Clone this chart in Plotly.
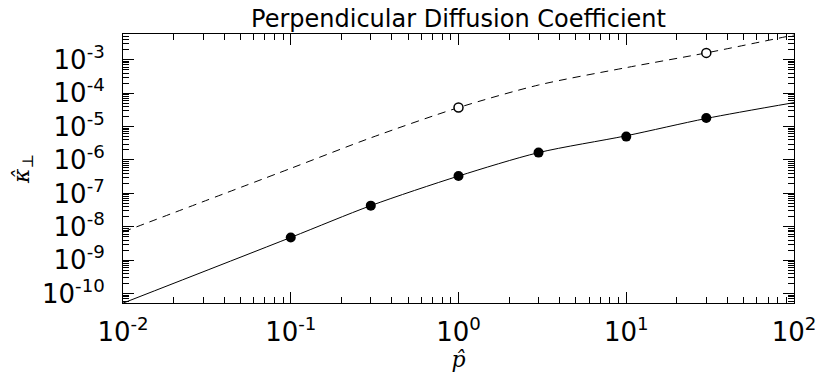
#!/usr/bin/env python3
"""
Perpendicular diffusion coefficient vs momentum (log-log) with Plotly
"""
import plotly.graph_objects as go

# curves
p_line = [0.01, 0.1, 0.3, 1, 3, 10, 30, 100]
kappa_solid = [5.2e-11, 4.8e-9, 4.3e-8, 3.3e-7, 1.66e-6, 5.3e-6, 1.75e-5, 5.2e-5]
kappa_dashed = [7.0e-9, 5.6e-7, 4.6e-6, 3.7e-5, 1.75e-4, 5.8e-4, 1.6e-3, 5.5e-3]

# simulation points
p_filled = [0.1, 0.3, 1, 3, 10, 30]
kappa_filled = [4.8e-9, 4.3e-8, 3.3e-7, 1.66e-6, 5.0e-6, 1.8e-5]
p_open = [1, 30]
kappa_open = [3.7e-5, 1.6e-3]

x_decades = [-2, -1, 0, 1, 2]
y_decades = [-10, -9, -8, -7, -6, -5, -4, -3]

FONT = "DejaVu Sans"

fig = go.Figure()

fig.add_trace(go.Scatter(x=p_line, y=kappa_dashed, mode='lines',
                         line=dict(color='black', width=1, dash='8px,6px',
                                   shape='spline', smoothing=0.8),
                         showlegend=False))
fig.add_trace(go.Scatter(x=p_line, y=kappa_solid, mode='lines',
                         line=dict(color='black', width=1,
                                   shape='spline', smoothing=0.8),
                         showlegend=False))
fig.add_trace(go.Scatter(x=p_filled, y=kappa_filled, mode='markers',
                         marker=dict(color='black', size=10, symbol='circle'),
                         showlegend=False))
fig.add_trace(go.Scatter(x=p_open, y=kappa_open, mode='markers',
                         marker=dict(color='white', size=9, symbol='circle',
                                     line=dict(color='black', width=1.5)),
                         showlegend=False))

def minor_vals(decades):
    vals = []
    for d in range(decades[0] - 1, decades[-1] + 1):
        for m in range(2, 10):
            vals.append(m * 10 ** d)
    return vals

fig.update_xaxes(
    type='log', range=[-2, 2], automargin=False,
    tickvals=[10 ** d for d in x_decades],
    ticktext=[f"10<sup>{d}</sup>" for d in x_decades],
    ticks='inside', ticklen=11, tickwidth=1, tickcolor='black',
    showline=True, linecolor='black', linewidth=1, mirror='allticks',
    showgrid=False, zeroline=False, ticklabelstandoff=6,
    tickfont=dict(family=FONT, size=26, color='black'),
    minor=dict(tickmode='array', tickvals=minor_vals(x_decades),
               ticks='inside', ticklen=6, tickcolor='black', showgrid=False),
    title=dict(text="<i>p̂</i>", font=dict(family="DejaVu Serif", size=22, color='black'),
               standoff=2),
)
fig.update_yaxes(
    type='log', range=[-10.28, -2.23], automargin=False,
    tickvals=[10 ** d for d in y_decades],
    ticktext=[f"10<sup>{d}</sup>" for d in y_decades],
    ticks='inside', ticklen=11, tickwidth=1, tickcolor='black',
    showline=True, linecolor='black', linewidth=1, mirror='allticks',
    showgrid=False, zeroline=False, ticklabelstandoff=12,
    tickfont=dict(family=FONT, size=26, color='black'),
    minor=dict(tickmode='array', tickvals=minor_vals(y_decades),
               ticks='inside', ticklen=6, tickcolor='black', showgrid=False),
    title=dict(text="<i>κ̂</i><sub>⊥</sub>", font=dict(family="DejaVu Serif", size=22, color='black'),
               standoff=6),
)

fig.update_layout(
    width=830, height=383,
    margin=dict(l=123, r=36, t=34, b=80),
    paper_bgcolor='white', plot_bgcolor='white',
    title=dict(text="Perpendicular Diffusion Coefficient",
               font=dict(family=FONT, size=24, color='black'),
               x=(123 + 794) / 2 / 830, xanchor='center', y=1 - 18.5 / 383, yanchor='middle'),
    font=dict(family=FONT, color='black'),
)

# drop the browser's default 8px body margin so the figure sits at the page corner
fig.write_html("out.html", config={'displayModeBar': False},
               post_script="document.body.style.margin='0';")
